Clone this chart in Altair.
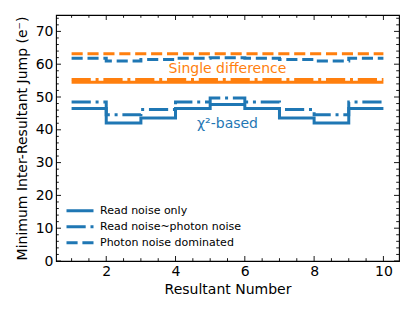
import altair as alt
import pandas as pd

resultant = [1, 2, 3, 4, 5, 6, 7, 8, 9, 10]

# chi^2-based thresholds (blue)
chi2_read_only = [46.5, 42.1, 43.6, 46.5, 47.7, 46.5, 43.6, 42.1, 46.5, 46.5]
chi2_read_photon = [48.5, 44.6, 46.2, 48.5, 49.7, 48.5, 46.2, 44.6, 48.5, 48.5]
chi2_photon = [61.8, 61.0, 61.4, 61.8, 62.0, 61.8, 61.4, 61.0, 61.8, 61.8]

# single-difference thresholds (orange)
single_read_only = [54.5, 54.5, 54.5, 54.5, 54.5, 54.5, 54.5, 54.5, 54.5, 54.5]
single_read_photon = [55.3, 55.3, 55.3, 55.3, 55.3, 55.3, 55.3, 55.3, 55.3, 55.3]
single_photon = [63.2, 63.2, 63.2, 63.2, 63.2, 63.2, 63.2, 63.2, 63.2, 63.2]

noise_types = ["Read noise only", "Read noise~photon noise", "Photon noise dominated"]
methods = ["χ²-based", "Single difference"]

x_major = [2, 4, 6, 8, 10]
x_minor = [1, 1.5, 2.5, 3, 3.5, 4.5, 5, 5.5, 6.5, 7, 7.5, 8.5, 9, 9.5]
y_major = [0, 10, 20, 30, 40, 50, 60, 70]
y_minor = [2, 4, 6, 8, 12, 14, 16, 18, 22, 24, 26, 28, 32, 34, 36, 38,
           42, 44, 46, 48, 52, 54, 56, 58, 62, 64, 66, 68, 72, 74]

ann_text = ["Single difference", "χ²-based"]
ann_x = [5.5, 5.5]
ann_y = [58.4, 41.8]
ann_method = ["Single difference", "χ²-based"]

XT = "Resultant Number"
YT = "Minimum Inter-Resultant Jump (e⁻)"

rows = []
for method, series in [(methods[0], [chi2_read_only, chi2_read_photon, chi2_photon]),
                       (methods[1], [single_read_only, single_read_photon, single_photon])]:
    for noise, vals in zip(noise_types, series):
        for x, y in zip(resultant, vals):
            rows.append({"x": x, "y": y, "noise": noise, "method": method})
df = pd.DataFrame(rows)

W, H = 343, 246
FONT = "DejaVu Sans"
BLUE, ORANGE = "#1f77b4", "#ff7f0e"

xscale = alt.Scale(domain=[0.55, 10.45], nice=False, zero=False)
yscale = alt.Scale(domain=[0, 75], nice=False, zero=False)
color_scale = alt.Scale(domain=methods, range=[BLUE, ORANGE])

xaxis = alt.Axis(values=x_major, format="d", labelPadding=3, titlePadding=4)
yaxis = alt.Axis(values=y_major, format="d", labelPadding=3, titlePadding=6)


def X(field):
    return alt.X(field, scale=xscale, title=XT, axis=xaxis)


def Y(field):
    return alt.Y(field, scale=yscale, title=YT, axis=yaxis)


lines = alt.Chart(df).mark_line(interpolate="step-after", strokeWidth=3, clip=True).encode(
    x=X("x:Q"),
    y=Y("y:Q"),
    color=alt.Color("method:N", scale=color_scale, legend=None),
    strokeDash=alt.StrokeDash(
        "noise:N",
        scale=alt.Scale(domain=noise_types, range=[[1, 0], [19.2, 4.8, 3, 4.8], [11.1, 4.8]]),
        legend=alt.Legend(title=None, orient="none", legendX=9, legendY=188, padding=0,
                          symbolType="stroke", symbolSize=729, symbolStrokeWidth=3,
                          symbolStrokeColor=BLUE, labelFontSize=11, labelFont=FONT,
                          labelColor="black", labelOffset=5, rowPadding=0, clipHeight=15.5),
    ),
)

ann_df = pd.DataFrame({"text": ann_text, "x": ann_x, "y": ann_y, "method": ann_method})
ann = alt.Chart(ann_df).mark_text(fontSize=14, font=FONT, baseline="middle", align="center").encode(
    x=X("x:Q"),
    y=Y("y:Q"),
    text="text:N",
    color=alt.Color("method:N", scale=color_scale, legend=None),
)


def xticks(vals, length):
    d = pd.DataFrame({"v": vals})
    base = alt.Chart(d).mark_rule(color="black", strokeWidth=0.9)
    bottom = base.encode(x=X("v:Q"), y=alt.value(H), y2=alt.value(H - length))
    top = base.encode(x=X("v:Q"), y=alt.value(0), y2=alt.value(length))
    return [bottom, top]


def yticks(vals, length):
    d = pd.DataFrame({"v": vals})
    base = alt.Chart(d).mark_rule(color="black", strokeWidth=0.9)
    left = base.encode(y=Y("v:Q"), x=alt.value(0), x2=alt.value(length))
    right = base.encode(y=Y("v:Q"), x=alt.value(W), x2=alt.value(W - length))
    return [left, right]


tick_layers = xticks(x_major, 5) + xticks(x_minor, 2.8) + yticks(y_major, 5) + yticks(y_minor, 2.8)

chart = alt.layer(lines, ann, *tick_layers).properties(
    width=W, height=H,
    autosize=alt.AutoSizeParams(type="none"),
    padding={"left": 48, "top": 7, "right": 8, "bottom": 42},
    background="white",
).configure_view(stroke="black", strokeWidth=1.1).configure_axis(
    ticks=False, domain=False, grid=False, labelOverlap=False, labelFlush=False,
    labelFontSize=14, labelFont=FONT, labelColor="black",
    titleFontSize=14, titleFont=FONT, titleColor="black", titleFontWeight="normal",
)

chart.save("out.html", embed_options={"renderer": "svg", "actions": False})
